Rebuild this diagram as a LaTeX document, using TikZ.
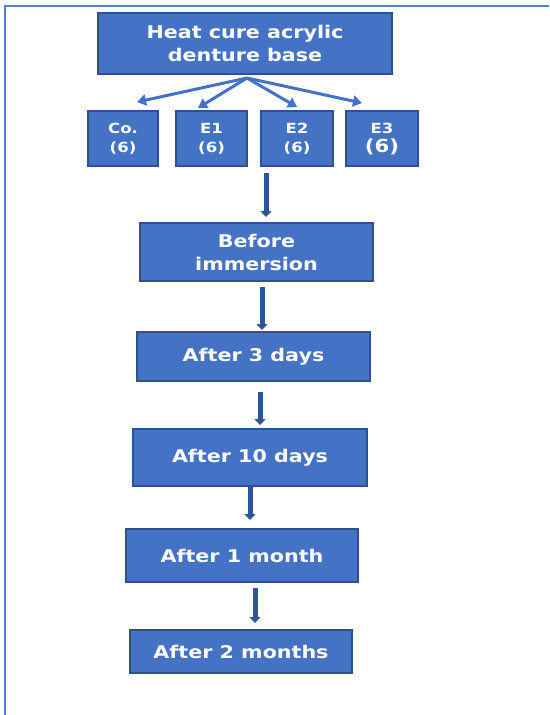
\documentclass[tikz,border=0pt]{standalone}
\usepackage{fontspec}
\newfontfamily\boxfont[FakeStretch=1.18]{DejaVu Sans}
\usetikzlibrary{arrows.meta}
\definecolor{boxfill}{HTML}{4472C4}
\definecolor{boxline}{HTML}{2F528F}
\definecolor{varrowc}{HTML}{2E5597}
\definecolor{framec}{HTML}{4F81DA}
\tikzset{
  box/.style={draw=boxline, line width=1.2pt, fill=boxfill, text=white,
    font=\boxfont\bfseries\fontsize{17.5}{23}\selectfont, align=center,
    inner sep=0pt, outer sep=0pt},
  smallbox/.style={box, font=\boxfont\bfseries\fontsize{14}{19}\selectfont},
  varrow/.style={draw=varrowc, line width=5pt,
    -{Triangle[width=11pt,length=6pt]}},
  darrow/.style={draw=boxfill, line width=3pt,
    -{Triangle[width=11pt,length=9pt]}},
}
\begin{document}
\begin{tikzpicture}[x=1pt,y=-1pt]
\useasboundingbox (0,0) rectangle (549,715);
\draw[framec, line width=2pt] (549,6) -- (5,6) -- (5,715);
\node[box, minimum width=294pt, minimum height=61pt] (top) at (245,43.5) {Heat cure acrylic\\denture base};
\node[smallbox, minimum width=70pt, minimum height=55pt] (co) at (123,138.5) {Co.\\(6)};
\node[smallbox, minimum width=71pt, minimum height=55pt] (e1) at (211.5,138.5) {E1\\(6)};
\node[smallbox, minimum width=72pt, minimum height=55pt] (e2) at (297,138.5) {E2\\(6)};
\node[smallbox, minimum width=72pt, minimum height=55pt] (e3) at (382,138.5) {E3\\{\fontsize{18}{18}\selectfont(6)}};
\node[box, minimum width=233pt, minimum height=58pt] (before) at (256.5,252) {Before\\immersion};
\node[box, minimum width=233pt, minimum height=49pt] (three) at (253.5,356.5) {After 3 days};
\node[box, minimum width=234pt, minimum height=57pt] (ten) at (250,457.5) {After 10 days};
\node[box, minimum width=232pt, minimum height=53pt] (month) at (242,555.5) {After 1 month};
\node[box, minimum width=222pt, minimum height=43pt] (two) at (241,651.5) {After 2 months};
% diagonal arrows
\coordinate (tc) at ([xshift=2pt,yshift=-4pt]top.south);
\coordinate (tco) at ([xshift=14pt,yshift=9pt]co.north);
\coordinate (te1) at ([xshift=-13.5pt,yshift=3pt]e1.north);
\coordinate (te2) at ([xshift=0pt,yshift=4pt]e2.north);
\coordinate (te3) at ([xshift=-20pt,yshift=8pt]e3.north);
\draw[darrow] (tc) -- (tco);
\draw[darrow] (tc) -- (te1);
\draw[darrow] (tc) -- (te2);
\draw[darrow] (tc) -- (te3);
% vertical arrows
\coordinate (s1) at (266,173);
\draw[varrow] (s1) -- ([xshift=9.5pt,yshift=6pt]before.north);
\draw[varrow] ([xshift=5.5pt,yshift=-6pt]before.south) -- ([xshift=8.5pt,yshift=2pt]three.north);
\draw[varrow] ([xshift=6.5pt,yshift=-11pt]three.south) -- ([xshift=10pt,yshift=4pt]ten.north);
\draw[varrow] ([xshift=0pt]ten.south) -- ([xshift=8pt,yshift=9pt]month.north);
\draw[varrow] ([xshift=13pt,yshift=-6pt]month.south) -- ([xshift=14pt,yshift=7pt]two.north);
\end{tikzpicture}
\end{document}
